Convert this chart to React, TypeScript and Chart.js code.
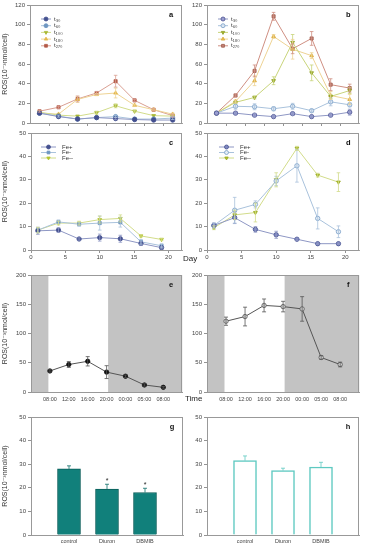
import React, { useEffect, useRef } from 'react';
import { Chart, registerables } from 'chart.js';
import { drawPoint } from 'chart.js/helpers';

Chart.register(...registerables);

const FONT = '"Liberation Sans", "DejaVu Sans", Arial, sans-serif';
const Y_TITLE = 'ROS(10⁻³nmol/cell)';

// ---------- data: panels a, b (growth stages) ----------
const stagePos = [0.5, 1.5, 2.5, 3.5, 4.5, 5.5, 6.5, 7.5];
const tNames = ['t₃₀', 't₆₀', 't₁₀₀', 't₁₈₀', 't₂₇₀'];
const aT30 = [10, 6.5, 4, 5.5, 4.5, 3.5, 3, 3];
const aT60 = [10, 7, 4, 5.5, 6.5, 4, 4, 5];
const aT100 = [11, 8, 7, 10.5, 17.5, 12, 7.5, 7];
const aT180 = [10, 9, 24, 29, 30.5, 18, 13.5, 9];
const aT270 = [12, 16, 24.5, 30.5, 42.5, 23, 13.5, 7.5];
const aT30Err = [0, 0, 0, 0, 1, 0, 0, 0];
const aT60Err = [0, 1, 0, 0, 1, 0, 0, 1.5];
const aT100Err = [0, 0, 0, 1.5, 2, 1, 0, 0];
const aT180Err = [0, 0, 3, 1, 5, 1, 1, 1];
const aT270Err = [1, 1, 3, 1.5, 6, 1, 1, 1.5];

const bT30 = [10, 10, 8, 6.5, 9.5, 6.5, 8, 11];
const bT60 = [10, 17, 16.5, 14.5, 17, 12.5, 21.5, 18.5];
const bT100 = [10, 21, 26, 43, 82, 51, 27, 33];
const bT180 = [10, 22, 43, 88, 75, 68.5, 28, 24];
const bT270 = [10, 28, 53, 108.5, 75.5, 86, 39, 35.5];
const bT30Err = [0, 1, 1.5, 1, 1.5, 1, 1.5, 3];
const bT60Err = [0, 3, 3, 2, 3, 1.5, 4, 2];
const bT100Err = [0, 1, 1.5, 4, 8, 8, 2, 3];
const bT180Err = [0, 1.5, 5, 2, 10, 3, 4, 5];
const bT270Err = [0, 1.5, 6, 4, 5, 7, 6, 4];

// ---------- data: panels c, d (days) ----------
const days = [1, 4, 7, 10, 13, 16, 19];
const feNames = ['Fe+', 'Fe-', 'Fe--'];
const cFe = [8.2, 8.5, 4.7, 5.3, 4.8, 2.8, 1.0];
const cFeM = [8.5, 12, 11, 11.5, 11.8, 3.5, 1.8];
const cFeMM = [8.5, 11.5, 11.5, 13, 13.5, 6, 4.5];
const cFeErr = [1.5, 1, 0.5, 1.5, 1.5, 0.8, 0.5];
const cFeMErr = [1, 0.8, 0.8, 3, 2, 1, 0.8];
const cFeMMErr = [1.2, 0.8, 0.8, 1.5, 1.5, 0.5, 0.5];

const dFe = [10.5, 13.8, 8.8, 6.5, 4.6, 2.7, 2.7];
const dFeM = [10.5, 17, 19.5, 29.5, 36, 13.5, 7.8];
const dFeMM = [9.5, 15, 16, 30, 43.5, 32, 29];
const dFeErr = [1, 2.5, 1.2, 1.5, 0.5, 0.3, 0.3];
const dFeMErr = [1, 5.5, 1.5, 2, 7, 4.5, 2.5];
const dFeMMErr = [0.8, 2, 4, 3, 0.8, 0.8, 4];

// ---------- data: panels e, f (time of day) ----------
const timePos = [1, 2, 3, 4, 5, 6, 7];
const timeLabels = ['08:00', '12:00', '16:00', '20:00', '00:00', '05:00', '08:00'];
const darkPeriods = [[0, 0.92], [4.08, 8]];
const eValues = [36, 47, 52.5, 34, 27, 12, 8];
const eErr = [2, 5, 8, 11, 2, 2, 1.5];
const fValues = [121, 129, 148, 146, 142, 59, 47];
const fErr = [7, 16, 11, 9, 21, 3, 4];

// ---------- data: panels g, h (inhibitors) ----------
const treatments = ['control', 'Diuron', 'DBMIB'];
const gValues = [28, 19.5, 18];
const gErr = [1.3, 2, 1.8];
const gMarks = ['', '*', '*'];
const hValues = [31.5, 27.3, 28.8];
const hErr = [2, 1, 2];

// ---------- styles ----------
const PAD_T = 6;
const PAD_R = 4;
const tickFont = { family: FONT, size: 6 };
const smallTickFont = { family: FONT, size: 5.5 };

type Sty = { fill: string; border: string; line: string; shape: string; rot?: number; err?: string };

const aStyles: Sty[] = [
  { fill: '#44508f', border: '#44508f', line: '#8e97c4', shape: 'circle' },
  { fill: '#6f97c2', border: '#6f97c2', line: '#a9c2dc', shape: 'circle' },
  { fill: '#a9b935', border: '#a9b935', line: '#d2dc8a', shape: 'triangle', rot: 180 },
  { fill: '#e4b84a', border: '#e4b84a', line: '#eed394', shape: 'triangle' },
  { fill: '#b45a48', border: '#b45a48', line: '#d99f92', shape: 'rect' },
];
const bStyles: Sty[] = [
  { fill: '#9a9ed0', border: '#4a5090', line: '#8e97c4', shape: 'circle' },
  { fill: '#dbe6f2', border: '#7aa0c8', line: '#a9c2dc', shape: 'circle' },
  { fill: '#a9b935', border: '#8e9e25', line: '#c8d47a', shape: 'triangle', rot: 180 },
  { fill: '#ecc35a', border: '#d8a838', line: '#eed394', shape: 'triangle' },
  { fill: '#c4857a', border: '#9e5848', line: '#cf8f82', shape: 'rect' },
];
const cStyles: Sty[] = [
  { fill: '#44508f', border: '#44508f', line: '#8e97c4', shape: 'circle' },
  { fill: '#6f97c2', border: '#6f97c2', line: '#a9c2dc', shape: 'rect' },
  { fill: '#b5c52e', border: '#b5c52e', line: '#d2dc8a', shape: 'triangle', rot: 180 },
];
const dStyles: Sty[] = [
  { fill: '#8088c0', border: '#44508f', line: '#8e97c4', shape: 'circle' },
  { fill: '#e4edf6', border: '#7aa0c8', line: '#a9c2dc', shape: 'circle' },
  { fill: '#b5c52e', border: '#98a820', line: '#d2dc8a', shape: 'triangle', rot: 180 },
];
const eStyle: Sty = { fill: '#111', border: '#111', line: '#555', shape: 'circle', err: '#555' };
const fStyle: Sty = { fill: '#d8d8d8', border: '#555', line: '#555', shape: 'circle', err: '#555' };

type Geo = { L: number; R: number; T: number; B: number; yw: number; xh: number };

// ---------- plugins ----------
function framePlugin() {
  return {
    id: 'frame',
    afterDraw(chart: any) {
      const { ctx, chartArea: a } = chart;
      ctx.save();
      ctx.strokeStyle = '#999';
      ctx.lineWidth = 1;
      ctx.strokeRect(Math.round(a.left) + 0.5, Math.round(a.top) + 0.5, Math.round(a.right - a.left) - 1, Math.round(a.bottom - a.top));
      ctx.restore();
    },
  };
}

function letterPlugin(text: string) {
  return {
    id: 'letter',
    afterDraw(chart: any) {
      const { ctx, chartArea: a } = chart;
      ctx.save();
      ctx.font = `bold 7.5px ${FONT}`;
      ctx.fillStyle = '#111';
      ctx.textAlign = 'center';
      ctx.textBaseline = 'middle';
      ctx.fillText(text, a.right - 11, a.top + 10);
      ctx.restore();
    },
  };
}

function errorPlugin(cap: number) {
  return {
    id: 'errorBars',
    afterDatasetsDraw(chart: any) {
      const ctx = chart.ctx;
      const ys = chart.scales.y;
      chart.data.datasets.forEach((ds: any, i: number) => {
        const errs = ds.errors;
        if (!errs) return;
        const meta = chart.getDatasetMeta(i);
        ctx.save();
        ctx.strokeStyle = ds.errorColor || ds.borderColor;
        ctx.lineWidth = 0.8;
        meta.data.forEach((el: any, j: number) => {
          const d = ds.data[j];
          const v = d != null && typeof d === 'object' ? d.y : d;
          const e = errs[j];
          if (v == null || !e) return;
          const x = el.x;
          const yTop = ys.getPixelForValue(v + e);
          const yBot = ds.errorUpOnly ? ys.getPixelForValue(v) : ys.getPixelForValue(v - e);
          ctx.beginPath();
          ctx.moveTo(x, yTop);
          ctx.lineTo(x, yBot);
          ctx.moveTo(x - cap, yTop);
          ctx.lineTo(x + cap, yTop);
          if (!ds.errorUpOnly) {
            ctx.moveTo(x - cap, yBot);
            ctx.lineTo(x + cap, yBot);
          }
          ctx.stroke();
          if (ds.marks && ds.marks[j]) {
            ctx.fillStyle = '#222';
            ctx.font = `7px ${FONT}`;
            ctx.textAlign = 'center';
            ctx.textBaseline = 'middle';
            ctx.fillText(ds.marks[j], x, yTop - 3);
          }
        });
        ctx.restore();
      });
    },
  };
}

function shadePlugin(spans: number[][]) {
  return {
    id: 'shade',
    beforeDatasetsDraw(chart: any) {
      const { ctx, chartArea: a } = chart;
      const xs = chart.scales.x;
      ctx.save();
      ctx.fillStyle = '#c3c3c3';
      spans.forEach(([s, e]) => {
        const x1 = xs.getPixelForValue(s);
        const x2 = xs.getPixelForValue(e);
        ctx.fillRect(x1, a.top, x2 - x1, a.bottom - a.top);
      });
      ctx.restore();
    },
  };
}

function legendPlugin(lx: number, ly: number, dy: number, len: number, gap: number) {
  return {
    id: 'inLegend',
    afterDatasetsDraw(chart: any) {
      const { ctx, chartArea: a } = chart;
      ctx.save();
      chart.data.datasets.forEach((ds: any, i: number) => {
        const y = a.top + ly + i * dy;
        const x0 = a.left + lx;
        ctx.strokeStyle = ds.borderColor;
        ctx.lineWidth = 1;
        ctx.beginPath();
        ctx.moveTo(x0, y);
        ctx.lineTo(x0 + len, y);
        ctx.stroke();
        ctx.fillStyle = ds.pointBackgroundColor;
        ctx.strokeStyle = ds.pointBorderColor;
        ctx.lineWidth = 0.8;
        drawPoint(ctx, { pointStyle: ds.pointStyle, radius: 2, rotation: ds.rotation || 0, borderWidth: 0.8 } as any, x0 + len / 2, y);
        ctx.fillStyle = '#333';
        ctx.font = `6px ${FONT}`;
        ctx.textAlign = 'left';
        ctx.textBaseline = 'middle';
        ctx.fillText(ds.label, x0 + len + gap, y);
      });
      ctx.restore();
    },
  };
}

// ---------- builders ----------
function lineDs(label: string, xs: number[], ys: number[], errs: number[], s: Sty) {
  return {
    label,
    data: xs.map((x, i) => ({ x, y: ys[i] })),
    errors: errs,
    errorColor: s.err || s.line,
    borderColor: s.line,
    backgroundColor: s.fill,
    pointBackgroundColor: s.fill,
    pointBorderColor: s.border,
    pointStyle: s.shape,
    rotation: s.rot || 0,
    pointRadius: 2.2,
    pointBorderWidth: 0.8,
    borderWidth: 1,
    tension: 0,
  };
}

function yAxis(geo: Geo, max: number, step: number, title: boolean) {
  return {
    type: 'linear',
    min: 0,
    max,
    afterFit: (s: any) => { s.width = geo.yw; },
    ticks: { stepSize: step, font: tickFont, color: '#444', padding: 2 },
    grid: { drawOnChartArea: false, drawTicks: true, tickLength: 3, color: '#777', lineWidth: 0.8 },
    border: { display: true, color: '#999' },
    title: title
      ? { display: true, text: Y_TITLE, font: { family: FONT, size: 7 }, color: '#333', padding: { top: 1, bottom: 0 } }
      : { display: false },
  };
}

function baseOptions(geo: Geo, x: any, y: any) {
  return {
    animation: false,
    responsive: false,
    maintainAspectRatio: false,
    layout: { padding: { top: PAD_T, right: PAD_R, left: 0, bottom: 0 } },
    plugins: { legend: { display: false }, tooltip: { enabled: false } },
    scales: { x: { ...x, afterFit: (s: any) => { s.height = geo.xh; } }, y },
  };
}

const stageX = {
  type: 'linear', min: 0, max: 8,
  ticks: { stepSize: 1, callback: () => '', font: tickFont },
  grid: {
    drawOnChartArea: false, tickLength: 3, lineWidth: 0.8,
    color: (c: any) => (c.tick && (c.tick.value === 0 || c.tick.value === 8) ? 'rgba(0,0,0,0)' : '#777'),
  },
  border: { display: true, color: '#999' },
};
const dayX = {
  type: 'linear', min: 0, max: 22,
  ticks: { stepSize: 5, includeBounds: false, font: tickFont, color: '#444', padding: 1, maxRotation: 0 },
  grid: { drawOnChartArea: false, tickLength: 3, lineWidth: 0.8, color: '#777' },
  border: { display: true, color: '#999' },
};
const timeX = {
  type: 'linear', min: 0, max: 8,
  ticks: {
    stepSize: 1, autoSkip: false, maxRotation: 0, font: smallTickFont, color: '#444', padding: 4,
    callback: (v: number) => timeLabels[v - 1] ?? '',
  },
  grid: { display: false, drawTicks: false },
  border: { display: true, color: '#999' },
};
const catX = {
  type: 'category', offset: false,
  ticks: { autoSkip: false, maxRotation: 0, font: smallTickFont, color: '#444', padding: 3 },
  grid: { display: false, drawTicks: false },
  border: { display: true, color: '#999' },
};

const G = {
  a: { L: 30, R: 183, T: 5, B: 123, yw: 30, xh: 8 },
  b: { L: 207, R: 360, T: 5, B: 123, yw: 26, xh: 8 },
  c: { L: 31, R: 183, T: 133, B: 250, yw: 31, xh: 14 },
  d: { L: 207, R: 360, T: 133, B: 250, yw: 26, xh: 14 },
  e: { L: 31, R: 183, T: 275, B: 392, yw: 31, xh: 16 },
  f: { L: 207, R: 360, T: 275, B: 392, yw: 26, xh: 16 },
  g: { L: 31, R: 183, T: 417, B: 535, yw: 31, xh: 14 },
  h: { L: 207, R: 359, T: 417, B: 535, yw: 26, xh: 14 },
};

function stageConfig(geo: Geo, sets: number[][], errs: number[][], styles: Sty[], letter: string, title: boolean, lx: number) {
  return {
    type: 'line',
    data: { datasets: sets.map((s, i) => lineDs(tNames[i], stagePos, s, errs[i], styles[i])) },
    options: baseOptions(geo, stageX, yAxis(geo, 120, 20, title)),
    plugins: [errorPlugin(1.8), legendPlugin(lx, 14, 6.7, 10, 3), framePlugin(), letterPlugin(letter)],
  };
}

function dayConfig(geo: Geo, sets: number[][], errs: number[][], styles: Sty[], letter: string, title: boolean, lx: number) {
  return {
    type: 'line',
    data: { datasets: sets.map((s, i) => lineDs(feNames[i], days, s, errs[i], styles[i])) },
    options: baseOptions(geo, dayX, yAxis(geo, 50, 10, title)),
    plugins: [errorPlugin(1.8), legendPlugin(lx, 14, 5.5, 15, 6), framePlugin(), letterPlugin(letter)],
  };
}

function timeConfig(geo: Geo, vals: number[], errs: number[], s: Sty, letter: string, title: boolean) {
  return {
    type: 'line',
    data: { datasets: [lineDs('ROS', timePos, vals, errs, s)] },
    options: baseOptions(geo, timeX, yAxis(geo, 200, 50, title)),
    plugins: [shadePlugin(darkPeriods), errorPlugin(2), framePlugin(), letterPlugin(letter)],
  };
}

function barConfig(geo: Geo, vals: number[], errs: number[], marks: string[], fill: string, border: string, bw: number, errColor: string, letter: string, title: boolean) {
  return {
    type: 'bar',
    data: {
      labels: ['', ...treatments, ''],
      datasets: [{
        label: 'ROS',
        data: [null, ...vals, null],
        errors: [null, ...errs, null],
        marks: ['', ...marks, ''],
        errorUpOnly: true,
        errorColor: errColor,
        backgroundColor: fill,
        borderColor: border,
        borderWidth: bw,
        barThickness: 23,
      }],
    },
    options: baseOptions(geo, catX, yAxis(geo, 50, 10, title)),
    plugins: [errorPlugin(2), framePlugin(), letterPlugin(letter)],
  };
}

function Panel({ geo, build }: { geo: Geo; build: () => any }) {
  const ref = useRef<HTMLCanvasElement>(null);
  useEffect(() => {
    const chart = new Chart(ref.current as HTMLCanvasElement, build());
    return () => chart.destroy();
  }, []);
  const left = geo.L - geo.yw;
  const top = geo.T - PAD_T;
  const w = geo.R - geo.L + geo.yw + PAD_R;
  const h = geo.B - geo.T + PAD_T + geo.xh;
  return <canvas ref={ref} width={w} height={h} style={{ position: 'absolute', left, top, width: w, height: h }} />;
}

const sideLabel: React.CSSProperties = {
  position: 'absolute', font: `8px ${FONT}`, color: '#222', lineHeight: '10px',
};

export default function App() {
  return (
    <div style={{ position: 'fixed', left: 0, top: 0, width: 366, height: 550, background: '#fff', overflow: 'hidden' }}>
      <Panel geo={G.a} build={() => stageConfig(G.a, [aT30, aT60, aT100, aT180, aT270], [aT30Err, aT60Err, aT100Err, aT180Err, aT270Err], aStyles, 'a', true, 11)} />
      <Panel geo={G.b} build={() => stageConfig(G.b, [bT30, bT60, bT100, bT180, bT270], [bT30Err, bT60Err, bT100Err, bT180Err, bT270Err], bStyles, 'b', false, 11)} />
      <Panel geo={G.c} build={() => dayConfig(G.c, [cFe, cFeM, cFeMM], [cFeErr, cFeMErr, cFeMMErr], cStyles, 'c', true, 10)} />
      <Panel geo={G.d} build={() => dayConfig(G.d, [dFe, dFeM, dFeMM], [dFeErr, dFeMErr, dFeMMErr], dStyles, 'd', false, 12)} />
      <Panel geo={G.e} build={() => timeConfig(G.e, eValues, eErr, eStyle, 'e', true)} />
      <Panel geo={G.f} build={() => timeConfig(G.f, fValues, fErr, fStyle, 'f', false)} />
      <Panel geo={G.g} build={() => barConfig(G.g, gValues, gErr, gMarks, '#11807b', '#0b5e5a', 1, '#0e6e6a', 'g', true)} />
      <Panel geo={G.h} build={() => barConfig(G.h, hValues, hErr, ['', '', ''], '#ffffff', '#5ec9c1', 1.5, '#5ec9c1', 'h', false)} />
      <div style={{ ...sideLabel, left: 183, top: 254 }}>Day</div>
      <div style={{ ...sideLabel, left: 185, top: 394 }}>Time</div>
    </div>
  );
}
